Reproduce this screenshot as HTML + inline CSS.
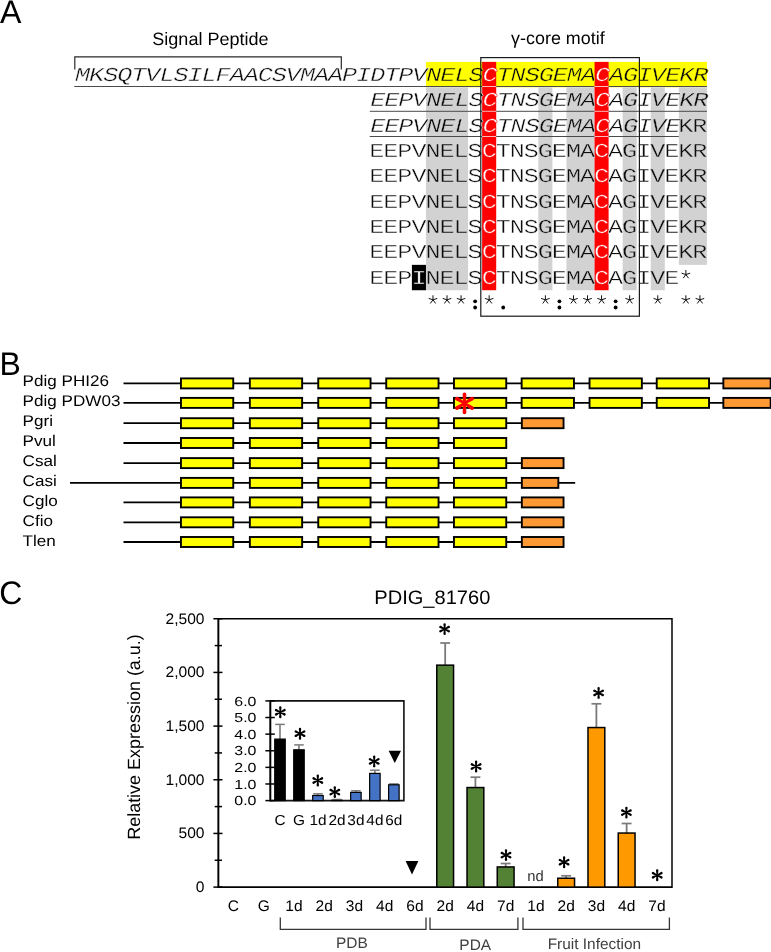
<!DOCTYPE html>
<html><head><meta charset="utf-8"><title>Figure</title>
<style>
html,body{margin:0;padding:0;background:#fff;}
body{width:771px;height:952px;overflow:hidden;font-family:"Liberation Sans",sans-serif;}
svg{display:block;will-change:transform;}
text{text-rendering:geometricPrecision;}
</style></head><body>
<svg width="771" height="952" viewBox="0 0 771 952">
<rect width="771" height="952" fill="#fff"/>
<text transform="translate(0.00 22.70) scale(0.985 1)" font-family='"Liberation Sans", sans-serif' font-size="32.6" text-anchor="start" fill="#000">A</text>
<text transform="translate(-0.50 374.60) scale(0.98 1)" font-family='"Liberation Sans", sans-serif' font-size="32.6" text-anchor="start" fill="#000">B</text>
<text transform="translate(-0.80 604.30) scale(0.98 1)" font-family='"Liberation Sans", sans-serif' font-size="32.6" text-anchor="start" fill="#000">C</text>
<rect x="425.95" y="61.90" width="281.00" height="25.37" fill="#ffff00" stroke="none" stroke-width="1" />
<rect x="425.95" y="87.27" width="42.15" height="202.96" fill="#d2d2d2" stroke="none" stroke-width="1" />
<rect x="538.35" y="87.27" width="14.05" height="202.96" fill="#d2d2d2" stroke="none" stroke-width="1" />
<rect x="566.45" y="87.27" width="28.10" height="202.96" fill="#d2d2d2" stroke="none" stroke-width="1" />
<rect x="622.65" y="87.27" width="14.05" height="202.96" fill="#d2d2d2" stroke="none" stroke-width="1" />
<rect x="650.75" y="87.27" width="14.05" height="202.96" fill="#d2d2d2" stroke="none" stroke-width="1" />
<rect x="678.85" y="87.27" width="28.10" height="177.59" fill="#d2d2d2" stroke="none" stroke-width="1" />
<rect x="482.15" y="61.90" width="14.05" height="228.33" fill="#ff0000" stroke="none" stroke-width="1" />
<rect x="594.55" y="61.90" width="14.05" height="228.33" fill="#ff0000" stroke="none" stroke-width="1" />
<rect x="411.90" y="264.86" width="14.05" height="25.37" fill="#000" stroke="none" stroke-width="1" />
<text transform="scale(1.2700 1)" y="80.80" x="65.06 76.12 87.19 98.25 109.31 120.37 131.44 142.50 153.56 164.63 175.69 186.75 197.81 208.88 219.94 231.00 242.07 253.13 264.19 275.26 286.32 297.38 308.44 319.51 330.57" font-family='"Liberation Mono", monospace' font-size="19.8" text-anchor="middle" fill="#0c0c0c" stroke="#fff" stroke-width="0.4" font-style="italic">MKSQTVLSILFAACSVMAAPIDTPV</text>
<text transform="scale(1.2700 1)" y="80.80" x="341.63 352.70 363.76 374.82 396.95 408.01 419.07 430.14 441.20 452.26 463.33 485.45 496.52 507.58 518.64 529.70 540.77 551.83" font-family='"Liberation Mono", monospace' font-size="19.8" text-anchor="middle" fill="#0c0c0c" stroke="#ffff00" stroke-width="0.4" font-style="italic">NELSTNSGEMAAGIVEKR</text>
<text transform="scale(1.2700 1)" y="80.80" x="385.89 474.39" font-family='"Liberation Mono", monospace' font-size="19.8" text-anchor="middle" fill="#fff" stroke="#ff0000" stroke-width="0.4" font-style="italic">CC</text>
<text transform="scale(1.2700 1)" y="106.17" x="297.38 308.44 319.51 330.57 374.82 396.95 408.01 419.07 441.20 485.45 507.58 529.70" font-family='"Liberation Mono", monospace' font-size="19.8" text-anchor="middle" fill="#0c0c0c" stroke="#fff" stroke-width="0.4" font-style="italic">EEPVSTNSEAIE</text>
<text transform="scale(1.2700 1)" y="106.17" x="341.63 352.70 363.76 430.14 452.26 463.33 496.52 518.64 540.77 551.83" font-family='"Liberation Mono", monospace' font-size="19.8" text-anchor="middle" fill="#0c0c0c" stroke="#d2d2d2" stroke-width="0.4" font-style="italic">NELGMAGVKR</text>
<text transform="scale(1.2700 1)" y="106.17" x="385.89 474.39" font-family='"Liberation Mono", monospace' font-size="19.8" text-anchor="middle" fill="#fff" stroke="#ff0000" stroke-width="0.4" font-style="italic">CC</text>
<text transform="scale(1.2700 1)" y="131.54" x="297.38 308.44 319.51 330.57 374.82 396.95 408.01 419.07 441.20 485.45 507.58 529.70" font-family='"Liberation Mono", monospace' font-size="19.8" text-anchor="middle" fill="#0c0c0c" stroke="#fff" stroke-width="0.4" font-style="italic">EEPVSTNSEAIE</text>
<text transform="scale(1.2700 1)" y="131.54" x="341.63 352.70 363.76 430.14 452.26 463.33 496.52 518.64" font-family='"Liberation Mono", monospace' font-size="19.8" text-anchor="middle" fill="#0c0c0c" stroke="#d2d2d2" stroke-width="0.4" font-style="italic">NELGMAGV</text>
<text transform="scale(1.2700 1)" y="131.54" x="385.89 474.39" font-family='"Liberation Mono", monospace' font-size="19.8" text-anchor="middle" fill="#fff" stroke="#ff0000" stroke-width="0.4" font-style="italic">CC</text>
<text transform="scale(1.2700 1)" y="131.54" x="540.06 551.12" font-family='"Liberation Mono", monospace' font-size="19.8" text-anchor="middle" fill="#0c0c0c" stroke="#d2d2d2" stroke-width="0.4">KR</text>
<text transform="scale(1.2700 1)" y="156.91" x="296.67 307.74 318.80 329.86 374.11 396.24 407.30 418.37 440.49 484.74 506.87 529.00" font-family='"Liberation Mono", monospace' font-size="19.8" text-anchor="middle" fill="#0c0c0c" stroke="#fff" stroke-width="0.4">EEPVSTNSEAIE</text>
<text transform="scale(1.2700 1)" y="156.91" x="340.93 351.99 363.05 429.43 451.56 462.62 495.81 517.93 540.06 551.12" font-family='"Liberation Mono", monospace' font-size="19.8" text-anchor="middle" fill="#0c0c0c" stroke="#d2d2d2" stroke-width="0.4">NELGMAGVKR</text>
<text transform="scale(1.2700 1)" y="156.91" x="385.18 473.68" font-family='"Liberation Mono", monospace' font-size="19.8" text-anchor="middle" fill="#fff" stroke="#ff0000" stroke-width="0.4">CC</text>
<text transform="scale(1.2700 1)" y="182.28" x="296.67 307.74 318.80 329.86 374.11 396.24 407.30 418.37 440.49 484.74 506.87 529.00" font-family='"Liberation Mono", monospace' font-size="19.8" text-anchor="middle" fill="#0c0c0c" stroke="#fff" stroke-width="0.4">EEPVSTNSEAIE</text>
<text transform="scale(1.2700 1)" y="182.28" x="340.93 351.99 363.05 429.43 451.56 462.62 495.81 517.93 540.06 551.12" font-family='"Liberation Mono", monospace' font-size="19.8" text-anchor="middle" fill="#0c0c0c" stroke="#d2d2d2" stroke-width="0.4">NELGMAGVKR</text>
<text transform="scale(1.2700 1)" y="182.28" x="385.18 473.68" font-family='"Liberation Mono", monospace' font-size="19.8" text-anchor="middle" fill="#fff" stroke="#ff0000" stroke-width="0.4">CC</text>
<text transform="scale(1.2700 1)" y="207.65" x="296.67 307.74 318.80 329.86 374.11 396.24 407.30 418.37 440.49 484.74 506.87 529.00" font-family='"Liberation Mono", monospace' font-size="19.8" text-anchor="middle" fill="#0c0c0c" stroke="#fff" stroke-width="0.4">EEPVSTNSEAIE</text>
<text transform="scale(1.2700 1)" y="207.65" x="340.93 351.99 363.05 429.43 451.56 462.62 495.81 517.93 540.06 551.12" font-family='"Liberation Mono", monospace' font-size="19.8" text-anchor="middle" fill="#0c0c0c" stroke="#d2d2d2" stroke-width="0.4">NELGMAGVKR</text>
<text transform="scale(1.2700 1)" y="207.65" x="385.18 473.68" font-family='"Liberation Mono", monospace' font-size="19.8" text-anchor="middle" fill="#fff" stroke="#ff0000" stroke-width="0.4">CC</text>
<text transform="scale(1.2700 1)" y="233.02" x="296.67 307.74 318.80 329.86 374.11 396.24 407.30 418.37 440.49 484.74 506.87 529.00" font-family='"Liberation Mono", monospace' font-size="19.8" text-anchor="middle" fill="#0c0c0c" stroke="#fff" stroke-width="0.4">EEPVSTNSEAIE</text>
<text transform="scale(1.2700 1)" y="233.02" x="340.93 351.99 363.05 429.43 451.56 462.62 495.81 517.93 540.06 551.12" font-family='"Liberation Mono", monospace' font-size="19.8" text-anchor="middle" fill="#0c0c0c" stroke="#d2d2d2" stroke-width="0.4">NELGMAGVKR</text>
<text transform="scale(1.2700 1)" y="233.02" x="385.18 473.68" font-family='"Liberation Mono", monospace' font-size="19.8" text-anchor="middle" fill="#fff" stroke="#ff0000" stroke-width="0.4">CC</text>
<text transform="scale(1.2700 1)" y="258.39" x="296.67 307.74 318.80 329.86 374.11 396.24 407.30 418.37 440.49 484.74 506.87 529.00" font-family='"Liberation Mono", monospace' font-size="19.8" text-anchor="middle" fill="#0c0c0c" stroke="#fff" stroke-width="0.4">EEPVSTNSEAIE</text>
<text transform="scale(1.2700 1)" y="258.39" x="340.93 351.99 363.05 429.43 451.56 462.62 495.81 517.93 540.06 551.12" font-family='"Liberation Mono", monospace' font-size="19.8" text-anchor="middle" fill="#0c0c0c" stroke="#d2d2d2" stroke-width="0.4">NELGMAGVKR</text>
<text transform="scale(1.2700 1)" y="258.39" x="385.18 473.68" font-family='"Liberation Mono", monospace' font-size="19.8" text-anchor="middle" fill="#fff" stroke="#ff0000" stroke-width="0.4">CC</text>
<text transform="scale(1.2700 1)" y="283.76" x="296.67 307.74 318.80 374.11 396.24 407.30 418.37 440.49 484.74 506.87 529.00" font-family='"Liberation Mono", monospace' font-size="19.8" text-anchor="middle" fill="#0c0c0c" stroke="#fff" stroke-width="0.4">EEPSTNSEAIE</text>
<text transform="scale(1.2700 1)" y="283.76" x="329.86" font-family='"Liberation Mono", monospace' font-size="19.8" text-anchor="middle" fill="#fff" stroke="#000" stroke-width="0.4">I</text>
<text transform="scale(1.2700 1)" y="283.76" x="340.93 351.99 363.05 429.43 451.56 462.62 495.81 517.93" font-family='"Liberation Mono", monospace' font-size="19.8" text-anchor="middle" fill="#0c0c0c" stroke="#d2d2d2" stroke-width="0.4">NELGMAGV</text>
<text transform="scale(1.2700 1)" y="283.76" x="385.18 473.68" font-family='"Liberation Mono", monospace' font-size="19.8" text-anchor="middle" fill="#fff" stroke="#ff0000" stroke-width="0.4">CC</text>
<path d="M685.88 274.56L685.88 270.06M685.88 274.56L690.15 273.17M685.88 274.56L688.52 278.20M685.88 274.56L683.23 278.20M685.88 274.56L681.60 273.17" stroke="#111" stroke-width="1.0" fill="none"/>
<path d="M432.97 299.80L432.97 295.30M432.97 299.80L437.25 298.41M432.97 299.80L435.62 303.44M432.97 299.80L430.33 303.44M432.97 299.80L428.70 298.41" stroke="#111" stroke-width="1.0" fill="none"/>
<path d="M447.02 299.80L447.02 295.30M447.02 299.80L451.30 298.41M447.02 299.80L449.67 303.44M447.02 299.80L444.38 303.44M447.02 299.80L442.75 298.41" stroke="#111" stroke-width="1.0" fill="none"/>
<path d="M461.07 299.80L461.07 295.30M461.07 299.80L465.35 298.41M461.07 299.80L463.72 303.44M461.07 299.80L458.43 303.44M461.07 299.80L456.80 298.41" stroke="#111" stroke-width="1.0" fill="none"/>
<circle cx="475.12" cy="301.30" r="1.9" fill="#000"/>
<circle cx="475.12" cy="307.50" r="1.9" fill="#000"/>
<path d="M489.17 299.80L489.17 295.30M489.17 299.80L493.45 298.41M489.17 299.80L491.82 303.44M489.17 299.80L486.53 303.44M489.17 299.80L484.90 298.41" stroke="#111" stroke-width="1.0" fill="none"/>
<circle cx="503.22" cy="307.50" r="1.9" fill="#000"/>
<path d="M545.38 299.80L545.38 295.30M545.38 299.80L549.65 298.41M545.38 299.80L548.02 303.44M545.38 299.80L542.73 303.44M545.38 299.80L541.10 298.41" stroke="#111" stroke-width="1.0" fill="none"/>
<circle cx="559.42" cy="301.30" r="1.9" fill="#000"/>
<circle cx="559.42" cy="307.50" r="1.9" fill="#000"/>
<path d="M573.48 299.80L573.48 295.30M573.48 299.80L577.75 298.41M573.48 299.80L576.12 303.44M573.48 299.80L570.83 303.44M573.48 299.80L569.20 298.41" stroke="#111" stroke-width="1.0" fill="none"/>
<path d="M587.52 299.80L587.52 295.30M587.52 299.80L591.80 298.41M587.52 299.80L590.17 303.44M587.52 299.80L584.88 303.44M587.52 299.80L583.25 298.41" stroke="#111" stroke-width="1.0" fill="none"/>
<path d="M601.57 299.80L601.57 295.30M601.57 299.80L605.85 298.41M601.57 299.80L604.22 303.44M601.57 299.80L598.93 303.44M601.57 299.80L597.30 298.41" stroke="#111" stroke-width="1.0" fill="none"/>
<circle cx="615.62" cy="301.30" r="1.9" fill="#000"/>
<circle cx="615.62" cy="307.50" r="1.9" fill="#000"/>
<path d="M629.67 299.80L629.67 295.30M629.67 299.80L633.95 298.41M629.67 299.80L632.32 303.44M629.67 299.80L627.03 303.44M629.67 299.80L625.40 298.41" stroke="#111" stroke-width="1.0" fill="none"/>
<path d="M657.77 299.80L657.77 295.30M657.77 299.80L662.05 298.41M657.77 299.80L660.42 303.44M657.77 299.80L655.13 303.44M657.77 299.80L653.50 298.41" stroke="#111" stroke-width="1.0" fill="none"/>
<path d="M685.88 299.80L685.88 295.30M685.88 299.80L690.15 298.41M685.88 299.80L688.52 303.44M685.88 299.80L683.23 303.44M685.88 299.80L681.60 298.41" stroke="#111" stroke-width="1.0" fill="none"/>
<path d="M699.92 299.80L699.92 295.30M699.92 299.80L704.20 298.41M699.92 299.80L702.57 303.44M699.92 299.80L697.28 303.44M699.92 299.80L695.65 298.41" stroke="#111" stroke-width="1.0" fill="none"/>
<line x1="74.30" y1="86.5" x2="482.15" y2="86.5" stroke="#4a4a4a" stroke-width="1.0" />
<line x1="482.15" y1="86.5" x2="496.20" y2="86.5" stroke="#ffd0d0" stroke-width="0.9" />
<line x1="496.20" y1="86.5" x2="594.55" y2="86.5" stroke="#4a4a4a" stroke-width="1.0" />
<line x1="594.55" y1="86.5" x2="608.60" y2="86.5" stroke="#ffd0d0" stroke-width="0.9" />
<line x1="608.60" y1="86.5" x2="706.95" y2="86.5" stroke="#4a4a4a" stroke-width="1.0" />
<line x1="369.75" y1="111.3" x2="482.15" y2="111.3" stroke="#4a4a4a" stroke-width="1.0" />
<line x1="482.15" y1="111.3" x2="496.20" y2="111.3" stroke="#ffd0d0" stroke-width="0.9" />
<line x1="496.20" y1="111.3" x2="594.55" y2="111.3" stroke="#4a4a4a" stroke-width="1.0" />
<line x1="594.55" y1="111.3" x2="608.60" y2="111.3" stroke="#ffd0d0" stroke-width="0.9" />
<line x1="608.60" y1="111.3" x2="706.95" y2="111.3" stroke="#4a4a4a" stroke-width="1.0" />
<line x1="369.75" y1="136.5" x2="482.15" y2="136.5" stroke="#4a4a4a" stroke-width="1.0" />
<line x1="482.15" y1="136.5" x2="496.20" y2="136.5" stroke="#ffd0d0" stroke-width="0.9" />
<line x1="496.20" y1="136.5" x2="594.55" y2="136.5" stroke="#4a4a4a" stroke-width="1.0" />
<line x1="594.55" y1="136.5" x2="608.60" y2="136.5" stroke="#ffd0d0" stroke-width="0.9" />
<line x1="608.60" y1="136.5" x2="678.85" y2="136.5" stroke="#4a4a4a" stroke-width="1.0" />
<path d="M74.8 69.4V56.9H341.3V69.4" fill="none" stroke="#2a2a2a" stroke-width="1.2"/>
<text x="152.3" y="44.6" font-family='"Liberation Sans", sans-serif' font-size="17.9" text-anchor="start" fill="#000" textLength="116.3" lengthAdjust="spacingAndGlyphs" >Signal Peptide</text>
<text x="511.1" y="44.0" font-family='"Liberation Sans", sans-serif' font-size="17.7" text-anchor="start" fill="#000" textLength="93.6" lengthAdjust="spacingAndGlyphs" >γ-core motif</text>
<rect x="480.80" y="57.60" width="158.60" height="258.60" fill="none" stroke="#1a1a1a" stroke-width="1.2" />
<text transform="translate(22.6 386.40) scale(1.11 1)" font-family='"Liberation Sans", sans-serif' font-size="15.4" fill="#000">Pdig PHI26</text>
<text transform="translate(22.6 406.40) scale(1.11 1)" font-family='"Liberation Sans", sans-serif' font-size="15.4" fill="#000">Pdig PDW03</text>
<text transform="translate(22.6 426.40) scale(1.11 1)" font-family='"Liberation Sans", sans-serif' font-size="15.4" fill="#000">Pgri</text>
<text transform="translate(22.6 446.40) scale(1.11 1)" font-family='"Liberation Sans", sans-serif' font-size="15.4" fill="#000">Pvul</text>
<text transform="translate(22.6 466.40) scale(1.11 1)" font-family='"Liberation Sans", sans-serif' font-size="15.4" fill="#000">Csal</text>
<text transform="translate(22.6 486.40) scale(1.11 1)" font-family='"Liberation Sans", sans-serif' font-size="15.4" fill="#000">Casi</text>
<text transform="translate(22.6 506.40) scale(1.11 1)" font-family='"Liberation Sans", sans-serif' font-size="15.4" fill="#000">Cglo</text>
<text transform="translate(22.6 526.40) scale(1.11 1)" font-family='"Liberation Sans", sans-serif' font-size="15.4" fill="#000">Cfio</text>
<text transform="translate(22.6 546.40) scale(1.11 1)" font-family='"Liberation Sans", sans-serif' font-size="15.4" fill="#000">Tlen</text>
<line x1="123.5" y1="383.4" x2="771" y2="383.4" stroke="#000" stroke-width="1.8" />
<rect x="180.95" y="378.40" width="52.30" height="10.00" fill="#ffff00" stroke="#000" stroke-width="1.9" />
<rect x="249.85" y="378.40" width="52.30" height="10.00" fill="#ffff00" stroke="#000" stroke-width="1.9" />
<rect x="318.25" y="378.40" width="52.30" height="10.00" fill="#ffff00" stroke="#000" stroke-width="1.9" />
<rect x="386.25" y="378.40" width="52.30" height="10.00" fill="#ffff00" stroke="#000" stroke-width="1.9" />
<rect x="453.95" y="378.40" width="52.30" height="10.00" fill="#ffff00" stroke="#000" stroke-width="1.9" />
<rect x="521.65" y="378.40" width="52.30" height="10.00" fill="#ffff00" stroke="#000" stroke-width="1.9" />
<rect x="589.55" y="378.40" width="52.30" height="10.00" fill="#ffff00" stroke="#000" stroke-width="1.9" />
<rect x="656.75" y="378.40" width="52.30" height="10.00" fill="#ffff00" stroke="#000" stroke-width="1.9" />
<rect x="723.35" y="378.40" width="47.30" height="10.00" fill="#ff9933" stroke="#000" stroke-width="1.9" />
<line x1="123.5" y1="402.9" x2="771" y2="402.9" stroke="#000" stroke-width="1.8" />
<rect x="180.95" y="397.90" width="52.30" height="10.00" fill="#ffff00" stroke="#000" stroke-width="1.9" />
<rect x="249.85" y="397.90" width="52.30" height="10.00" fill="#ffff00" stroke="#000" stroke-width="1.9" />
<rect x="318.25" y="397.90" width="52.30" height="10.00" fill="#ffff00" stroke="#000" stroke-width="1.9" />
<rect x="386.25" y="397.90" width="52.30" height="10.00" fill="#ffff00" stroke="#000" stroke-width="1.9" />
<rect x="453.95" y="397.90" width="52.30" height="10.00" fill="#ffff00" stroke="#000" stroke-width="1.9" />
<rect x="521.65" y="397.90" width="52.30" height="10.00" fill="#ffff00" stroke="#000" stroke-width="1.9" />
<rect x="589.55" y="397.90" width="52.30" height="10.00" fill="#ffff00" stroke="#000" stroke-width="1.9" />
<rect x="656.75" y="397.90" width="52.30" height="10.00" fill="#ffff00" stroke="#000" stroke-width="1.9" />
<rect x="723.35" y="397.90" width="47.30" height="10.00" fill="#ff9933" stroke="#000" stroke-width="1.9" />
<line x1="123.5" y1="423.2" x2="564" y2="423.2" stroke="#000" stroke-width="1.8" />
<rect x="180.95" y="418.20" width="52.30" height="10.00" fill="#ffff00" stroke="#000" stroke-width="1.9" />
<rect x="249.85" y="418.20" width="52.30" height="10.00" fill="#ffff00" stroke="#000" stroke-width="1.9" />
<rect x="318.25" y="418.20" width="52.30" height="10.00" fill="#ffff00" stroke="#000" stroke-width="1.9" />
<rect x="386.25" y="418.20" width="52.30" height="10.00" fill="#ffff00" stroke="#000" stroke-width="1.9" />
<rect x="453.95" y="418.20" width="52.30" height="10.00" fill="#ffff00" stroke="#000" stroke-width="1.9" />
<rect x="521.85" y="418.20" width="41.70" height="10.00" fill="#ff9933" stroke="#000" stroke-width="1.9" />
<line x1="123.5" y1="443.0" x2="507" y2="443.0" stroke="#000" stroke-width="1.8" />
<rect x="180.95" y="438.00" width="52.30" height="10.00" fill="#ffff00" stroke="#000" stroke-width="1.9" />
<rect x="249.85" y="438.00" width="52.30" height="10.00" fill="#ffff00" stroke="#000" stroke-width="1.9" />
<rect x="318.25" y="438.00" width="52.30" height="10.00" fill="#ffff00" stroke="#000" stroke-width="1.9" />
<rect x="386.25" y="438.00" width="52.30" height="10.00" fill="#ffff00" stroke="#000" stroke-width="1.9" />
<rect x="453.95" y="438.00" width="52.30" height="10.00" fill="#ffff00" stroke="#000" stroke-width="1.9" />
<line x1="123.5" y1="463.1" x2="564" y2="463.1" stroke="#000" stroke-width="1.8" />
<rect x="180.95" y="458.10" width="52.30" height="10.00" fill="#ffff00" stroke="#000" stroke-width="1.9" />
<rect x="249.85" y="458.10" width="52.30" height="10.00" fill="#ffff00" stroke="#000" stroke-width="1.9" />
<rect x="318.25" y="458.10" width="52.30" height="10.00" fill="#ffff00" stroke="#000" stroke-width="1.9" />
<rect x="386.25" y="458.10" width="52.30" height="10.00" fill="#ffff00" stroke="#000" stroke-width="1.9" />
<rect x="453.95" y="458.10" width="52.30" height="10.00" fill="#ffff00" stroke="#000" stroke-width="1.9" />
<rect x="521.85" y="458.10" width="41.70" height="10.00" fill="#ff9933" stroke="#000" stroke-width="1.9" />
<line x1="70.0" y1="482.9" x2="575.2" y2="482.9" stroke="#000" stroke-width="1.8" />
<rect x="180.95" y="477.90" width="52.30" height="10.00" fill="#ffff00" stroke="#000" stroke-width="1.9" />
<rect x="249.85" y="477.90" width="52.30" height="10.00" fill="#ffff00" stroke="#000" stroke-width="1.9" />
<rect x="318.25" y="477.90" width="52.30" height="10.00" fill="#ffff00" stroke="#000" stroke-width="1.9" />
<rect x="386.25" y="477.90" width="52.30" height="10.00" fill="#ffff00" stroke="#000" stroke-width="1.9" />
<rect x="453.95" y="477.90" width="52.30" height="10.00" fill="#ffff00" stroke="#000" stroke-width="1.9" />
<rect x="521.85" y="477.90" width="36.50" height="10.00" fill="#ff9933" stroke="#000" stroke-width="1.9" />
<line x1="123.5" y1="502.4" x2="564" y2="502.4" stroke="#000" stroke-width="1.8" />
<rect x="180.95" y="497.40" width="52.30" height="10.00" fill="#ffff00" stroke="#000" stroke-width="1.9" />
<rect x="249.85" y="497.40" width="52.30" height="10.00" fill="#ffff00" stroke="#000" stroke-width="1.9" />
<rect x="318.25" y="497.40" width="52.30" height="10.00" fill="#ffff00" stroke="#000" stroke-width="1.9" />
<rect x="386.25" y="497.40" width="52.30" height="10.00" fill="#ffff00" stroke="#000" stroke-width="1.9" />
<rect x="453.95" y="497.40" width="52.30" height="10.00" fill="#ffff00" stroke="#000" stroke-width="1.9" />
<rect x="521.85" y="497.40" width="41.70" height="10.00" fill="#ff9933" stroke="#000" stroke-width="1.9" />
<line x1="123.5" y1="522.3" x2="564" y2="522.3" stroke="#000" stroke-width="1.8" />
<rect x="180.95" y="517.30" width="52.30" height="10.00" fill="#ffff00" stroke="#000" stroke-width="1.9" />
<rect x="249.85" y="517.30" width="52.30" height="10.00" fill="#ffff00" stroke="#000" stroke-width="1.9" />
<rect x="318.25" y="517.30" width="52.30" height="10.00" fill="#ffff00" stroke="#000" stroke-width="1.9" />
<rect x="386.25" y="517.30" width="52.30" height="10.00" fill="#ffff00" stroke="#000" stroke-width="1.9" />
<rect x="453.95" y="517.30" width="52.30" height="10.00" fill="#ffff00" stroke="#000" stroke-width="1.9" />
<rect x="521.85" y="517.30" width="41.70" height="10.00" fill="#ff9933" stroke="#000" stroke-width="1.9" />
<line x1="123.5" y1="542.0" x2="564" y2="542.0" stroke="#000" stroke-width="1.8" />
<rect x="180.95" y="537.00" width="52.30" height="10.00" fill="#ffff00" stroke="#000" stroke-width="1.9" />
<rect x="249.85" y="537.00" width="52.30" height="10.00" fill="#ffff00" stroke="#000" stroke-width="1.9" />
<rect x="318.25" y="537.00" width="52.30" height="10.00" fill="#ffff00" stroke="#000" stroke-width="1.9" />
<rect x="386.25" y="537.00" width="52.30" height="10.00" fill="#ffff00" stroke="#000" stroke-width="1.9" />
<rect x="453.95" y="537.00" width="52.30" height="10.00" fill="#ffff00" stroke="#000" stroke-width="1.9" />
<rect x="521.85" y="537.00" width="41.70" height="10.00" fill="#ff9933" stroke="#000" stroke-width="1.9" />
<path d="M465.65 403.35L466.40 394.40A1.9 1.9 0 0 0 462.60 394.40L463.35 403.35ZM463.35 403.35L462.60 412.30A1.9 1.9 0 0 0 466.40 412.30L465.65 403.35ZM465.11 404.33L473.11 400.25A1.9 1.9 0 0 0 471.11 397.02L463.89 402.37ZM465.11 402.37L457.89 397.02A1.9 1.9 0 0 0 455.89 400.25L463.89 404.33ZM463.89 402.37L455.89 406.45A1.9 1.9 0 0 0 457.89 409.68L465.11 404.33ZM463.89 404.33L471.11 409.68A1.9 1.9 0 0 0 473.11 406.45L465.11 402.37Z" fill="#ff0000"/>
<circle cx="464.5" cy="403.35" r="1.50" fill="#ff0000"/>
<line x1="218.35" y1="618.75" x2="672.0" y2="618.75" stroke="#000" stroke-width="1.6" />
<line x1="672.0" y1="617.95" x2="672.0" y2="888.0" stroke="#000" stroke-width="1.5" />
<line x1="218.35" y1="887.1" x2="672.0" y2="887.1" stroke="#000" stroke-width="1.8" />
<line x1="218.35" y1="617.95" x2="218.35" y2="888.0" stroke="#000" stroke-width="1.95" />
<line x1="213.4" y1="887.1" x2="222.5" y2="887.1" stroke="#000" stroke-width="1.5" />
<text transform="translate(204.50 892.10) scale(1.02 1)" font-family='"Liberation Sans", sans-serif' font-size="15.3" text-anchor="end" fill="#000">0</text>
<line x1="214.7" y1="860.265" x2="222.0" y2="860.265" stroke="#000" stroke-width="1.5" />
<line x1="213.4" y1="833.4300000000001" x2="222.5" y2="833.4300000000001" stroke="#000" stroke-width="1.5" />
<text transform="translate(204.50 838.43) scale(1.02 1)" font-family='"Liberation Sans", sans-serif' font-size="15.3" text-anchor="end" fill="#000">500</text>
<line x1="214.7" y1="806.595" x2="222.0" y2="806.595" stroke="#000" stroke-width="1.5" />
<line x1="213.4" y1="779.76" x2="222.5" y2="779.76" stroke="#000" stroke-width="1.5" />
<text transform="translate(204.50 784.76) scale(1.02 1)" font-family='"Liberation Sans", sans-serif' font-size="15.3" text-anchor="end" fill="#000">1,000</text>
<line x1="214.7" y1="752.925" x2="222.0" y2="752.925" stroke="#000" stroke-width="1.5" />
<line x1="213.4" y1="726.09" x2="222.5" y2="726.09" stroke="#000" stroke-width="1.5" />
<text transform="translate(204.50 731.09) scale(1.02 1)" font-family='"Liberation Sans", sans-serif' font-size="15.3" text-anchor="end" fill="#000">1,500</text>
<line x1="214.7" y1="699.255" x2="222.0" y2="699.255" stroke="#000" stroke-width="1.5" />
<line x1="213.4" y1="672.4200000000001" x2="222.5" y2="672.4200000000001" stroke="#000" stroke-width="1.5" />
<text transform="translate(204.50 677.42) scale(1.02 1)" font-family='"Liberation Sans", sans-serif' font-size="15.3" text-anchor="end" fill="#000">2,000</text>
<line x1="214.7" y1="645.585" x2="222.0" y2="645.585" stroke="#000" stroke-width="1.5" />
<line x1="213.4" y1="618.75" x2="222.5" y2="618.75" stroke="#000" stroke-width="1.5" />
<text transform="translate(204.50 623.75) scale(1.02 1)" font-family='"Liberation Sans", sans-serif' font-size="15.3" text-anchor="end" fill="#000">2,500</text>
<text x="374.3" y="604.3" font-family='"Liberation Sans", sans-serif' font-size="19.5" text-anchor="start" fill="#000" textLength="116.0" lengthAdjust="spacingAndGlyphs" >PDIG_81760</text>
<text transform="translate(139.9 839.8) rotate(-90)" font-family='"Liberation Sans", sans-serif' font-size="17.7" textLength="205.6" lengthAdjust="spacingAndGlyphs">Relative Expression (a.u.)</text>
<text transform="translate(233.47 911.20) scale(1.015 1)" font-family='"Liberation Sans", sans-serif' font-size="15.3" text-anchor="middle" fill="#000">C</text>
<text transform="translate(263.71 911.20) scale(1.015 1)" font-family='"Liberation Sans", sans-serif' font-size="15.3" text-anchor="middle" fill="#000">G</text>
<text transform="translate(293.96 911.20) scale(1.015 1)" font-family='"Liberation Sans", sans-serif' font-size="15.3" text-anchor="middle" fill="#000">1d</text>
<text transform="translate(324.20 911.20) scale(1.015 1)" font-family='"Liberation Sans", sans-serif' font-size="15.3" text-anchor="middle" fill="#000">2d</text>
<text transform="translate(354.44 911.20) scale(1.015 1)" font-family='"Liberation Sans", sans-serif' font-size="15.3" text-anchor="middle" fill="#000">3d</text>
<text transform="translate(384.69 911.20) scale(1.015 1)" font-family='"Liberation Sans", sans-serif' font-size="15.3" text-anchor="middle" fill="#000">4d</text>
<text transform="translate(414.93 911.20) scale(1.015 1)" font-family='"Liberation Sans", sans-serif' font-size="15.3" text-anchor="middle" fill="#000">6d</text>
<text transform="translate(445.17 911.20) scale(1.015 1)" font-family='"Liberation Sans", sans-serif' font-size="15.3" text-anchor="middle" fill="#000">2d</text>
<text transform="translate(475.42 911.20) scale(1.015 1)" font-family='"Liberation Sans", sans-serif' font-size="15.3" text-anchor="middle" fill="#000">4d</text>
<text transform="translate(505.66 911.20) scale(1.015 1)" font-family='"Liberation Sans", sans-serif' font-size="15.3" text-anchor="middle" fill="#000">7d</text>
<text transform="translate(535.90 911.20) scale(1.015 1)" font-family='"Liberation Sans", sans-serif' font-size="15.3" text-anchor="middle" fill="#000">1d</text>
<text transform="translate(566.15 911.20) scale(1.015 1)" font-family='"Liberation Sans", sans-serif' font-size="15.3" text-anchor="middle" fill="#000">2d</text>
<text transform="translate(596.39 911.20) scale(1.015 1)" font-family='"Liberation Sans", sans-serif' font-size="15.3" text-anchor="middle" fill="#000">3d</text>
<text transform="translate(626.63 911.20) scale(1.015 1)" font-family='"Liberation Sans", sans-serif' font-size="15.3" text-anchor="middle" fill="#000">4d</text>
<text transform="translate(656.88 911.20) scale(1.015 1)" font-family='"Liberation Sans", sans-serif' font-size="15.3" text-anchor="middle" fill="#000">7d</text>
<line x1="445.17499999999995" y1="643.0" x2="445.17499999999995" y2="665.4" stroke="#7a7a7a" stroke-width="1.8" />
<line x1="440.22499999999997" y1="643.0" x2="450.12499999999994" y2="643.0" stroke="#7a7a7a" stroke-width="1.7" />
<rect x="436.77" y="665.15" width="16.80" height="221.95" fill="#548235" stroke="#000" stroke-width="1.5" />
<path d="M445.25 629.10L445.80 624.35A1.2 1.2 0 0 0 443.40 624.35L443.95 629.10ZM443.95 629.10L443.40 633.85A1.2 1.2 0 0 0 445.80 633.85L445.25 629.10ZM444.90 629.68L449.38 628.01A1.2 1.2 0 0 0 448.29 625.87L444.30 628.52ZM444.90 628.52L440.91 625.87A1.2 1.2 0 0 0 439.82 628.01L444.30 629.68ZM444.30 628.52L439.82 630.19A1.2 1.2 0 0 0 440.91 632.33L444.90 629.68ZM444.30 629.68L448.29 632.33A1.2 1.2 0 0 0 449.38 630.19L444.90 628.52Z" fill="#000"/>
<circle cx="444.6" cy="629.1" r="1.00" fill="#000"/>
<line x1="475.4183333333333" y1="777.2" x2="475.4183333333333" y2="787.8" stroke="#7a7a7a" stroke-width="1.8" />
<line x1="470.4683333333333" y1="777.2" x2="480.3683333333333" y2="777.2" stroke="#7a7a7a" stroke-width="1.7" />
<rect x="467.02" y="787.55" width="16.80" height="99.55" fill="#548235" stroke="#000" stroke-width="1.5" />
<path d="M476.75 766.50L477.30 761.75A1.2 1.2 0 0 0 474.90 761.75L475.45 766.50ZM475.45 766.50L474.90 771.25A1.2 1.2 0 0 0 477.30 771.25L476.75 766.50ZM476.40 767.08L480.88 765.41A1.2 1.2 0 0 0 479.79 763.27L475.80 765.92ZM476.40 765.92L472.41 763.27A1.2 1.2 0 0 0 471.32 765.41L475.80 767.08ZM475.80 765.92L471.32 767.59A1.2 1.2 0 0 0 472.41 769.73L476.40 767.08ZM475.80 767.08L479.79 769.73A1.2 1.2 0 0 0 480.88 767.59L476.40 765.92Z" fill="#000"/>
<circle cx="476.1" cy="766.5" r="1.00" fill="#000"/>
<line x1="505.66166666666663" y1="863.5" x2="505.66166666666663" y2="867.2" stroke="#7a7a7a" stroke-width="1.8" />
<line x1="500.71166666666664" y1="863.5" x2="510.6116666666666" y2="863.5" stroke="#7a7a7a" stroke-width="1.7" />
<rect x="497.26" y="866.95" width="16.80" height="20.15" fill="#548235" stroke="#000" stroke-width="1.5" />
<path d="M506.65 855.10L507.20 850.35A1.2 1.2 0 0 0 504.80 850.35L505.35 855.10ZM505.35 855.10L504.80 859.85A1.2 1.2 0 0 0 507.20 859.85L506.65 855.10ZM506.30 855.68L510.78 854.01A1.2 1.2 0 0 0 509.69 851.87L505.70 854.52ZM506.30 854.52L502.31 851.87A1.2 1.2 0 0 0 501.22 854.01L505.70 855.68ZM505.70 854.52L501.22 856.19A1.2 1.2 0 0 0 502.31 858.33L506.30 855.68ZM505.70 855.68L509.69 858.33A1.2 1.2 0 0 0 510.78 856.19L506.30 854.52Z" fill="#000"/>
<circle cx="506.0" cy="855.1" r="1.00" fill="#000"/>
<line x1="566.1483333333333" y1="875.8" x2="566.1483333333333" y2="878.5" stroke="#7a7a7a" stroke-width="1.8" />
<line x1="561.1983333333333" y1="875.8" x2="571.0983333333334" y2="875.8" stroke="#7a7a7a" stroke-width="1.7" />
<rect x="557.75" y="878.25" width="16.80" height="8.85" fill="#ff9900" stroke="#000" stroke-width="1.5" />
<path d="M564.75 862.20L565.30 857.45A1.2 1.2 0 0 0 562.90 857.45L563.45 862.20ZM563.45 862.20L562.90 866.95A1.2 1.2 0 0 0 565.30 866.95L564.75 862.20ZM564.40 862.78L568.88 861.11A1.2 1.2 0 0 0 567.79 858.97L563.80 861.62ZM564.40 861.62L560.41 858.97A1.2 1.2 0 0 0 559.32 861.11L563.80 862.78ZM563.80 861.62L559.32 863.29A1.2 1.2 0 0 0 560.41 865.43L564.40 862.78ZM563.80 862.78L567.79 865.43A1.2 1.2 0 0 0 568.88 863.29L564.40 861.62Z" fill="#000"/>
<circle cx="564.1" cy="862.2" r="1.00" fill="#000"/>
<line x1="596.3916666666667" y1="703.8" x2="596.3916666666667" y2="727.8" stroke="#7a7a7a" stroke-width="1.8" />
<line x1="591.4416666666666" y1="703.8" x2="601.3416666666667" y2="703.8" stroke="#7a7a7a" stroke-width="1.7" />
<rect x="587.99" y="727.55" width="16.80" height="159.55" fill="#ff9900" stroke="#000" stroke-width="1.5" />
<path d="M599.25 692.90L599.80 688.15A1.2 1.2 0 0 0 597.40 688.15L597.95 692.90ZM597.95 692.90L597.40 697.65A1.2 1.2 0 0 0 599.80 697.65L599.25 692.90ZM598.90 693.48L603.38 691.81A1.2 1.2 0 0 0 602.29 689.67L598.30 692.32ZM598.90 692.32L594.91 689.67A1.2 1.2 0 0 0 593.82 691.81L598.30 693.48ZM598.30 692.32L593.82 693.99A1.2 1.2 0 0 0 594.91 696.13L598.90 693.48ZM598.30 693.48L602.29 696.13A1.2 1.2 0 0 0 603.38 693.99L598.90 692.32Z" fill="#000"/>
<circle cx="598.6" cy="692.9" r="1.00" fill="#000"/>
<line x1="626.635" y1="823.5" x2="626.635" y2="833.3" stroke="#7a7a7a" stroke-width="1.8" />
<line x1="621.685" y1="823.5" x2="631.585" y2="823.5" stroke="#7a7a7a" stroke-width="1.7" />
<rect x="618.24" y="833.05" width="16.80" height="54.05" fill="#ff9900" stroke="#000" stroke-width="1.5" />
<path d="M627.05 812.60L627.60 807.85A1.2 1.2 0 0 0 625.20 807.85L625.75 812.60ZM625.75 812.60L625.20 817.35A1.2 1.2 0 0 0 627.60 817.35L627.05 812.60ZM626.70 813.18L631.18 811.51A1.2 1.2 0 0 0 630.09 809.37L626.10 812.02ZM626.70 812.02L622.71 809.37A1.2 1.2 0 0 0 621.62 811.51L626.10 813.18ZM626.10 812.02L621.62 813.69A1.2 1.2 0 0 0 622.71 815.83L626.70 813.18ZM626.10 813.18L630.09 815.83A1.2 1.2 0 0 0 631.18 813.69L626.70 812.02Z" fill="#000"/>
<circle cx="626.4" cy="812.6" r="1.00" fill="#000"/>
<path d="M657.85 875.25L658.40 870.50A1.2 1.2 0 0 0 656.00 870.50L656.55 875.25ZM656.55 875.25L656.00 880.00A1.2 1.2 0 0 0 658.40 880.00L657.85 875.25ZM657.50 875.83L661.98 874.16A1.2 1.2 0 0 0 660.89 872.02L656.90 874.67ZM657.50 874.67L653.51 872.02A1.2 1.2 0 0 0 652.42 874.16L656.90 875.83ZM656.90 874.67L652.42 876.34A1.2 1.2 0 0 0 653.51 878.48L657.50 875.83ZM656.90 875.83L660.89 878.48A1.2 1.2 0 0 0 661.98 876.34L657.50 874.67Z" fill="#000"/>
<circle cx="657.2" cy="875.25" r="1.00" fill="#000"/>
<text transform="translate(527.20 881.30) scale(1.0 1)" font-family='"Liberation Sans", sans-serif' font-size="14.8" text-anchor="start" fill="#333">nd</text>
<path d="M405.6 861.0H418.4L412.0 874.4Z" fill="#000"/>
<path d="M280.3 917.4V929.4H426.0V917.4" fill="none" stroke="#363636" stroke-width="1.3"/>
<path d="M430.0 917.4V929.4H517.9V917.4" fill="none" stroke="#363636" stroke-width="1.3"/>
<path d="M523.0 917.4V929.4H669.4V917.4" fill="none" stroke="#363636" stroke-width="1.3"/>
<text transform="translate(351.80 948.00) scale(1.01 1)" font-family='"Liberation Sans", sans-serif' font-size="15.3" text-anchor="middle" fill="#404040">PDB</text>
<text transform="translate(475.20 950.00) scale(1.01 1)" font-family='"Liberation Sans", sans-serif' font-size="15.3" text-anchor="middle" fill="#404040">PDA</text>
<text x="547.7" y="948.7" font-family='"Liberation Sans", sans-serif' font-size="15.3" text-anchor="start" fill="#404040" textLength="93.4" lengthAdjust="spacingAndGlyphs" >Fruit Infection</text>
<rect x="269.30" y="699.90" width="135.60" height="101.70" fill="#fff" stroke="none" stroke-width="1" />
<path d="M270.3 700.9H403.9V800.6H270.3" fill="none" stroke="#111" stroke-width="1.6"/>
<line x1="270.3" y1="700.1" x2="270.3" y2="801.4" stroke="#000" stroke-width="2.0" />
<line x1="265.4" y1="800.6" x2="274.8" y2="800.6" stroke="#000" stroke-width="1.5" />
<text transform="translate(256.50 805.30) scale(1.21 1)" font-family='"Liberation Sans", sans-serif' font-size="13.2" text-anchor="end" fill="#000">0.0</text>
<line x1="265.4" y1="783.9833333333333" x2="274.8" y2="783.9833333333333" stroke="#000" stroke-width="1.5" />
<text transform="translate(256.50 788.68) scale(1.21 1)" font-family='"Liberation Sans", sans-serif' font-size="13.2" text-anchor="end" fill="#000">1.0</text>
<line x1="265.4" y1="767.3666666666667" x2="274.8" y2="767.3666666666667" stroke="#000" stroke-width="1.5" />
<text transform="translate(256.50 772.07) scale(1.21 1)" font-family='"Liberation Sans", sans-serif' font-size="13.2" text-anchor="end" fill="#000">2.0</text>
<line x1="265.4" y1="750.75" x2="274.8" y2="750.75" stroke="#000" stroke-width="1.5" />
<text transform="translate(256.50 755.45) scale(1.21 1)" font-family='"Liberation Sans", sans-serif' font-size="13.2" text-anchor="end" fill="#000">3.0</text>
<line x1="265.4" y1="734.1333333333333" x2="274.8" y2="734.1333333333333" stroke="#000" stroke-width="1.5" />
<text transform="translate(256.50 738.83) scale(1.21 1)" font-family='"Liberation Sans", sans-serif' font-size="13.2" text-anchor="end" fill="#000">4.0</text>
<line x1="265.4" y1="717.5166666666667" x2="274.8" y2="717.5166666666667" stroke="#000" stroke-width="1.5" />
<text transform="translate(256.50 722.22) scale(1.21 1)" font-family='"Liberation Sans", sans-serif' font-size="13.2" text-anchor="end" fill="#000">5.0</text>
<line x1="265.4" y1="700.9" x2="274.8" y2="700.9" stroke="#000" stroke-width="1.5" />
<text transform="translate(256.50 705.60) scale(1.21 1)" font-family='"Liberation Sans", sans-serif' font-size="13.2" text-anchor="end" fill="#000">6.0</text>
<line x1="279.99" y1="724.4" x2="279.99" y2="739.5" stroke="#7a7a7a" stroke-width="1.6" />
<line x1="275.19" y1="724.4" x2="284.79" y2="724.4" stroke="#7a7a7a" stroke-width="1.5" />
<rect x="274.74" y="739.10" width="10.50" height="61.50" fill="#000" stroke="#000" stroke-width="1.2" />
<path d="M280.95 712.25L281.50 707.50A1.2 1.2 0 0 0 279.10 707.50L279.65 712.25ZM279.65 712.25L279.10 717.00A1.2 1.2 0 0 0 281.50 717.00L280.95 712.25ZM280.60 712.83L285.08 711.16A1.2 1.2 0 0 0 283.99 709.02L280.00 711.67ZM280.60 711.67L276.61 709.02A1.2 1.2 0 0 0 275.52 711.16L280.00 712.83ZM280.00 711.67L275.52 713.34A1.2 1.2 0 0 0 276.61 715.48L280.60 712.83ZM280.00 712.83L283.99 715.48A1.2 1.2 0 0 0 285.08 713.34L280.60 711.67Z" fill="#000"/>
<circle cx="280.3" cy="712.25" r="1.00" fill="#000"/>
<line x1="298.97" y1="744.9" x2="298.97" y2="750.2" stroke="#7a7a7a" stroke-width="1.6" />
<line x1="294.17" y1="744.9" x2="303.77000000000004" y2="744.9" stroke="#7a7a7a" stroke-width="1.5" />
<rect x="293.72" y="749.80" width="10.50" height="50.80" fill="#000" stroke="#000" stroke-width="1.2" />
<path d="M300.65 733.70L301.20 728.95A1.2 1.2 0 0 0 298.80 728.95L299.35 733.70ZM299.35 733.70L298.80 738.45A1.2 1.2 0 0 0 301.20 738.45L300.65 733.70ZM300.30 734.28L304.78 732.61A1.2 1.2 0 0 0 303.69 730.47L299.70 733.12ZM300.30 733.12L296.31 730.47A1.2 1.2 0 0 0 295.22 732.61L299.70 734.28ZM299.70 733.12L295.22 734.79A1.2 1.2 0 0 0 296.31 736.93L300.30 734.28ZM299.70 734.28L303.69 736.93A1.2 1.2 0 0 0 304.78 734.79L300.30 733.12Z" fill="#000"/>
<circle cx="300.0" cy="733.7" r="1.00" fill="#000"/>
<line x1="317.95" y1="793.8" x2="317.95" y2="795.9" stroke="#7a7a7a" stroke-width="1.6" />
<line x1="313.15" y1="793.8" x2="322.75" y2="793.8" stroke="#7a7a7a" stroke-width="1.5" />
<rect x="312.70" y="795.50" width="10.50" height="5.10" fill="#4472c4" stroke="#000" stroke-width="1.2" />
<path d="M318.45 780.50L319.00 775.75A1.2 1.2 0 0 0 316.60 775.75L317.15 780.50ZM317.15 780.50L316.60 785.25A1.2 1.2 0 0 0 319.00 785.25L318.45 780.50ZM318.10 781.08L322.58 779.41A1.2 1.2 0 0 0 321.49 777.27L317.50 779.92ZM318.10 779.92L314.11 777.27A1.2 1.2 0 0 0 313.02 779.41L317.50 781.08ZM317.50 779.92L313.02 781.59A1.2 1.2 0 0 0 314.11 783.73L318.10 781.08ZM317.50 781.08L321.49 783.73A1.2 1.2 0 0 0 322.58 781.59L318.10 779.92Z" fill="#000"/>
<circle cx="317.8" cy="780.5" r="1.00" fill="#000"/>
<line x1="336.93" y1="799.5" x2="336.93" y2="800.7" stroke="#7a7a7a" stroke-width="1.6" />
<line x1="332.13" y1="799.5" x2="341.73" y2="799.5" stroke="#7a7a7a" stroke-width="1.5" />
<rect x="331.68" y="800.30" width="10.50" height="0.30" fill="#4472c4" stroke="#000" stroke-width="1.2" />
<path d="M335.45 792.10L336.00 787.35A1.2 1.2 0 0 0 333.60 787.35L334.15 792.10ZM334.15 792.10L333.60 796.85A1.2 1.2 0 0 0 336.00 796.85L335.45 792.10ZM335.10 792.68L339.58 791.01A1.2 1.2 0 0 0 338.49 788.87L334.50 791.52ZM335.10 791.52L331.11 788.87A1.2 1.2 0 0 0 330.02 791.01L334.50 792.68ZM334.50 791.52L330.02 793.19A1.2 1.2 0 0 0 331.11 795.33L335.10 792.68ZM334.50 792.68L338.49 795.33A1.2 1.2 0 0 0 339.58 793.19L335.10 791.52Z" fill="#000"/>
<circle cx="334.8" cy="792.1" r="1.00" fill="#000"/>
<line x1="355.90999999999997" y1="790.8" x2="355.90999999999997" y2="792.8" stroke="#7a7a7a" stroke-width="1.6" />
<line x1="351.10999999999996" y1="790.8" x2="360.71" y2="790.8" stroke="#7a7a7a" stroke-width="1.5" />
<rect x="350.66" y="792.40" width="10.50" height="8.20" fill="#4472c4" stroke="#000" stroke-width="1.2" />
<line x1="374.89" y1="770.2" x2="374.89" y2="773.8" stroke="#7a7a7a" stroke-width="1.6" />
<line x1="370.09" y1="770.2" x2="379.69" y2="770.2" stroke="#7a7a7a" stroke-width="1.5" />
<rect x="369.64" y="773.40" width="10.50" height="27.20" fill="#4472c4" stroke="#000" stroke-width="1.2" />
<path d="M374.85 761.40L375.40 756.65A1.2 1.2 0 0 0 373.00 756.65L373.55 761.40ZM373.55 761.40L373.00 766.15A1.2 1.2 0 0 0 375.40 766.15L374.85 761.40ZM374.50 761.98L378.98 760.31A1.2 1.2 0 0 0 377.89 758.17L373.90 760.82ZM374.50 760.82L370.51 758.17A1.2 1.2 0 0 0 369.42 760.31L373.90 761.98ZM373.90 760.82L369.42 762.49A1.2 1.2 0 0 0 370.51 764.63L374.50 761.98ZM373.90 761.98L377.89 764.63A1.2 1.2 0 0 0 378.98 762.49L374.50 760.82Z" fill="#000"/>
<circle cx="374.2" cy="761.4" r="1.00" fill="#000"/>
<line x1="393.87" y1="783.9" x2="393.87" y2="785.2" stroke="#7a7a7a" stroke-width="1.6" />
<line x1="389.07" y1="783.9" x2="398.67" y2="783.9" stroke="#7a7a7a" stroke-width="1.5" />
<rect x="388.62" y="784.80" width="10.50" height="15.80" fill="#4472c4" stroke="#000" stroke-width="1.2" />
<text transform="translate(279.99 824.70) scale(1.06 1)" font-family='"Liberation Sans", sans-serif' font-size="14.5" text-anchor="middle" fill="#000">C</text>
<text transform="translate(298.97 824.70) scale(1.06 1)" font-family='"Liberation Sans", sans-serif' font-size="14.5" text-anchor="middle" fill="#000">G</text>
<text transform="translate(317.95 824.70) scale(1.06 1)" font-family='"Liberation Sans", sans-serif' font-size="14.5" text-anchor="middle" fill="#000">1d</text>
<text transform="translate(336.93 824.70) scale(1.06 1)" font-family='"Liberation Sans", sans-serif' font-size="14.5" text-anchor="middle" fill="#000">2d</text>
<text transform="translate(355.91 824.70) scale(1.06 1)" font-family='"Liberation Sans", sans-serif' font-size="14.5" text-anchor="middle" fill="#000">3d</text>
<text transform="translate(374.89 824.70) scale(1.06 1)" font-family='"Liberation Sans", sans-serif' font-size="14.5" text-anchor="middle" fill="#000">4d</text>
<text transform="translate(393.87 824.70) scale(1.06 1)" font-family='"Liberation Sans", sans-serif' font-size="14.5" text-anchor="middle" fill="#000">6d</text>
<path d="M388.6 750.7H401.0L394.8 763.1Z" fill="#000"/>
</svg>
</body></html>
